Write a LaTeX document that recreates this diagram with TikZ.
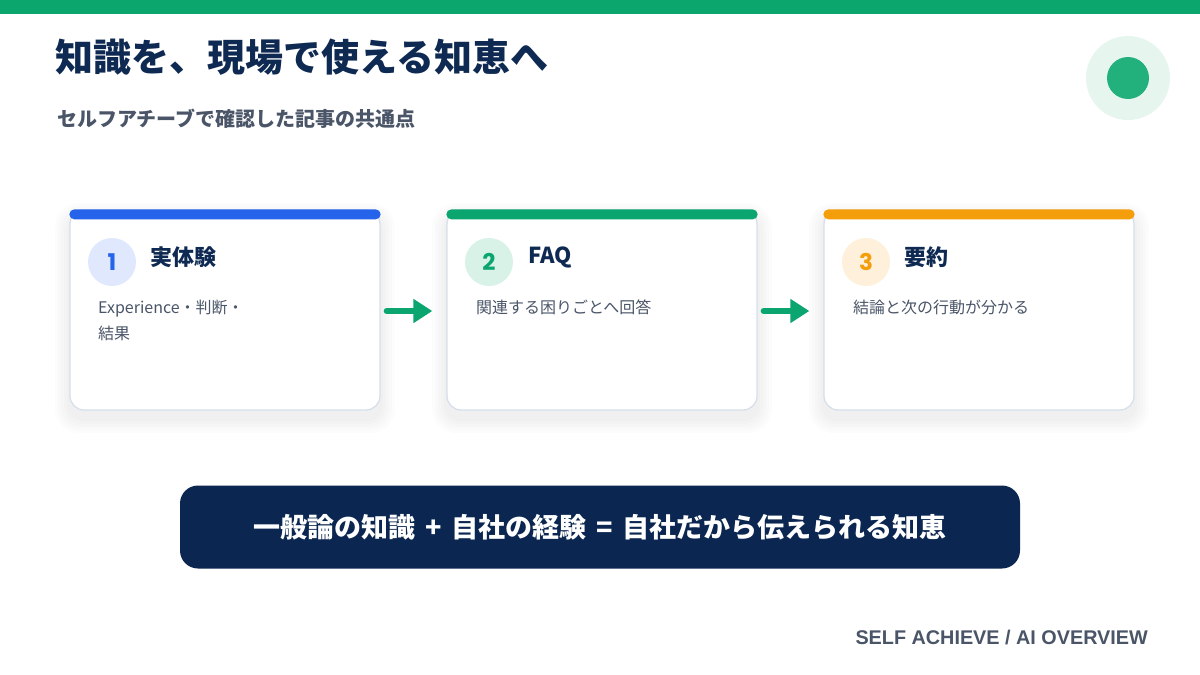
\documentclass[tikz,border=0pt]{standalone}
\usepackage{fontspec}
\setmainfont{Noto Sans CJK JP}
\newfontfamily\jp{Noto Sans CJK JP}
\newfontfamily\lat{Liberation Sans}
\newfontfamily\pop{Poppins}
\usetikzlibrary{arrows.meta}
\definecolor{topgreen}{HTML}{0AA66E}
\definecolor{navy}{HTML}{0F2A52}
\definecolor{bannernavy}{HTML}{0B2650}
\definecolor{txtgray}{HTML}{4A5568}
\definecolor{cardborder}{HTML}{D6DFEB}
\definecolor{barblue}{HTML}{2563EB}
\definecolor{bargreen}{HTML}{0BA56F}
\definecolor{barorange}{HTML}{F59E0B}
\definecolor{circblue}{HTML}{DFE8FC}
\definecolor{circgreen}{HTML}{D9F2E8}
\definecolor{circorange}{HTML}{FEF0DA}
\definecolor{dotouter}{HTML}{E6F6EF}
\definecolor{dotinner}{HTML}{22B07D}
\tikzset{
  card/.style={draw=cardborder, line width=1.3pt, fill=white, rounded corners=14pt,
    minimum width=310pt, minimum height=200pt, inner sep=0pt},
  numcirc/.style={circle, minimum size=48pt, inner sep=0pt, font=\pop\bfseries\fontsize{23}{23}\selectfont},
  heading/.style={anchor=west, text=navy, font=\jp\bfseries\fontsize{22}{24}\selectfont},
  body/.style={anchor=north west, text=txtgray, align=left, font=\jp\fontsize{16}{26}\selectfont},
  flow/.style={draw=bargreen, line width=6pt, line cap=round, -{Triangle[length=19pt,width=23pt]}},
}
\begin{document}
\begin{tikzpicture}[x=1pt,y=-1pt]
\useasboundingbox (0,0) rectangle (1200,675);
\fill[white] (0,0) rectangle (1200,675);
\fill[topgreen] (0,0) rectangle (1200,14);
% title
\node[anchor=west, text=navy, font=\jp\bfseries\fontsize{38}{40}\selectfont, inner sep=0pt] (title) at (55,57) {知識を、現場で使える知恵へ};
\node[anchor=west, text=txtgray, font=\jp\bfseries\fontsize{20}{22}\selectfont, inner sep=0pt] (subtitle) at (57,119) {セルフアチーブで確認した記事の共通点};
% top-right dot
\node[circle, fill=dotouter, minimum size=84pt, inner sep=0pt] (dotout) at (1128,78) {};
\node[circle, fill=dotinner, minimum size=42pt, inner sep=0pt] (dotin) at (1128,78) {};
% shadows
\foreach \cx in {225,602,979}{
  \foreach \i in {1,...,5}{
    \fill[black, opacity=0.012, rounded corners={14pt+\i*2pt}]
      (\cx-155-\i*3, 210-\i*3+8) rectangle (\cx+155+\i*3, 410+\i*3+8);
  }
}
% cards
\node[card] (c1) at (225,310) {};
\node[card] (c2) at (602,310) {};
\node[card] (c3) at (979,310) {};
\fill[barblue, rounded corners=5pt] (c1.north west) rectangle ([yshift=-10pt]c1.north east);
\fill[bargreen, rounded corners=5pt] (c2.north west) rectangle ([yshift=-10pt]c2.north east);
\fill[barorange, rounded corners=5pt] (c3.north west) rectangle ([yshift=-10pt]c3.north east);
% number circles
\node[numcirc, fill=circblue, text=barblue] (n1) at (112,262) {1};
\node[numcirc, fill=circgreen, text=bargreen] (n2) at (489,262) {2};
\node[numcirc, fill=circorange, text=barorange] (n3) at (866,262) {3};
% headings
\node[heading, inner sep=0pt] (h1) at (150,257) {実体験};
\node[heading, inner sep=0pt] (h2) at (528,257) {FAQ};
\node[heading, inner sep=0pt] (h3) at (904,257) {要約};
% bodies
\node[body, inner sep=0pt] (b1) at (98,300) {Experience・判断・\\結果};
\node[body, inner sep=0pt] (b2) at (476,300) {関連する困りごとへ回答};
\node[body, inner sep=0pt] (b3) at (853,300) {結論と次の行動が分かる};
% arrows
\draw[flow] ([xshift=6pt,yshift=-1pt]c1.east) -- ([xshift=-14pt,yshift=-1pt]c2.west);
\draw[flow] ([xshift=6pt,yshift=-1pt]c2.east) -- ([xshift=-14pt,yshift=-1pt]c3.west);
% banner
\node[fill=bannernavy, rounded corners=18pt, minimum width=840pt, minimum height=83pt, inner sep=0pt,
  text=white, font=\jp\bfseries\fontsize{27}{28}\selectfont] (banner) at (600,527)
  {一般論の知識\hspace{10pt}+\hspace{10pt}自社の経験\hspace{10pt}=\hspace{10pt}自社だから伝えられる知恵};
% footer
\node[anchor=east, text=txtgray, font=\lat\bfseries\fontsize{19.8}{20}\selectfont, inner sep=0pt] (footer) at (1148,638) {SELF ACHIEVE / AI OVERVIEW};
\end{tikzpicture}
\end{document}
